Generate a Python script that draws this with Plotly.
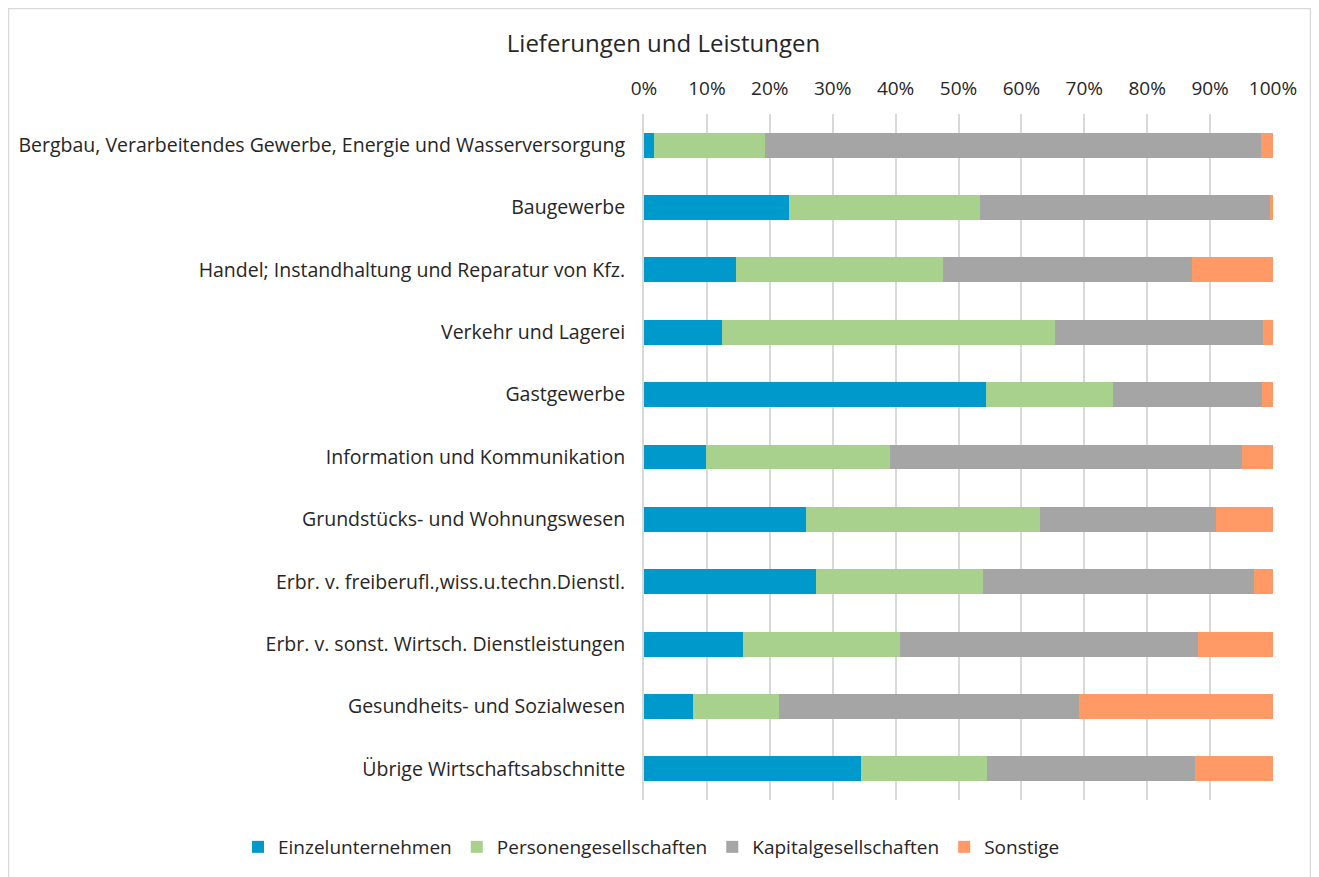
import plotly.graph_objects as go

categories = [
    "Bergbau, Verarbeitendes Gewerbe, Energie und Wasserversorgung",
    "Baugewerbe",
    "Handel; Instandhaltung und Reparatur von Kfz.",
    "Verkehr und Lagerei",
    "Gastgewerbe",
    "Information und Kommunikation",
    "Grundstücks- und Wohnungswesen",
    "Erbr. v. freiberufl.,wiss.u.techn.Dienstl.",
    "Erbr. v. sonst. Wirtsch. Dienstleistungen",
    "Gesundheits- und Sozialwesen",
    "Übrige Wirtschaftsabschnitte",
]

einzelunternehmen = [1.6, 23.1, 14.6, 12.4, 54.3, 9.9, 25.8, 27.3, 15.7, 7.8, 34.5]
personengesellschaften = [17.6, 30.3, 32.9, 52.9, 20.3, 29.2, 37.2, 26.6, 25.0, 13.7, 20.1]
kapitalgesellschaften = [78.9, 46.1, 39.7, 33.1, 23.6, 55.9, 27.9, 43.1, 47.4, 47.6, 33.0]
sonstige = [1.9, 0.5, 12.8, 1.6, 1.8, 5.0, 9.1, 3.0, 11.9, 30.9, 12.4]

series = [
    ("Einzelunternehmen", einzelunternehmen, "#0099CC"),
    ("Personengesellschaften", personengesellschaften, "#A9D18E"),
    ("Kapitalgesellschaften", kapitalgesellschaften, "#A5A5A5"),
    ("Sonstige", sonstige, "#FF9966"),
]

FONT = "Open Sans, Noto Sans, sans-serif"
TXT = "#262626"

fig = go.Figure()
for name, vals, color in series:
    fig.add_trace(go.Bar(
        y=categories, x=[v / 100 for v in vals], name=name, orientation="h",
        marker=dict(color=color, line=dict(width=0)),
    ))

# page has an 8px body margin; figure coordinates = page coordinates - 8
W, H = 1311, 869
L, R, T, B = 636, 46, 106, 77
pw, ph = W - L - R, H - T - B

def px_to_paper_x(px):
    return (px - L) / pw

def py_to_paper_y(py):
    return (H - B - py) / ph

fig.update_layout(
    width=W, height=H,
    barmode="stack",
    bargap=0.6,
    margin=dict(l=L, r=R, t=T, b=B, autoexpand=False),
    paper_bgcolor="white", plot_bgcolor="white",
    font=dict(family=FONT, color=TXT, size=19),
    title=dict(text="Lieferungen und Leistungen", x=0.5, xref="container",
               xanchor="center", y=1 - 36 / H, yref="container", yanchor="middle",
               font=dict(size=24, color=TXT, family=FONT)),
    xaxis=dict(side="top", range=[0, 1], dtick=0.1, tick0=0, tickformat=".0%",
               showgrid=True, gridcolor="#D9D9D9", gridwidth=2,
               zeroline=False, showline=False, ticks="",
               ticklabelstandoff=14,
               tickfont=dict(size=19, color=TXT), fixedrange=True),
    yaxis=dict(autorange="reversed", showgrid=False, ticks="", showline=True,
               linecolor="#D9D9D9", linewidth=2,
               ticklabelstandoff=13, tickfont=dict(size=19.5, color=TXT)),
    legend=dict(orientation="h", x=px_to_paper_x(230), xanchor="left",
                y=py_to_paper_y(839), yanchor="middle",
                font=dict(size=19, color=TXT), itemwidth=30,
                traceorder="normal"),
    shapes=[dict(type="rect", xref="paper", yref="paper",
                 x0=px_to_paper_x(0.5), x1=px_to_paper_x(1302.5),
                 y0=py_to_paper_y(885), y1=py_to_paper_y(0.5),
                 line=dict(color="#D9D9D9", width=1.5), fillcolor="rgba(0,0,0,0)",
                 layer="below")],
    showlegend=True,
)

fig.write_html("out.html")
